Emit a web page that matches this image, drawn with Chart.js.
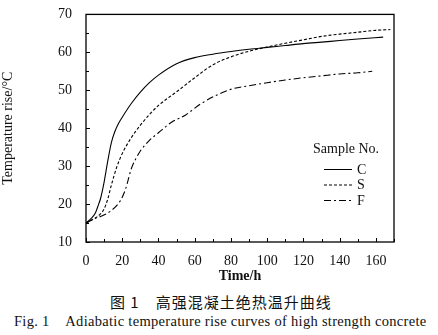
<!DOCTYPE html>
<html><head><meta charset="utf-8">
<script src="https://cdn.jsdelivr.net/npm/chart.js@4/dist/chart.umd.min.js"></script>
<style>
html,body{margin:0;padding:0;background:#fff;width:438px;height:335px;overflow:hidden}
#wrap{position:absolute;left:0;top:0;width:438px;height:285px}
.cap{position:absolute;color:#111;white-space:nowrap}
#cn{top:291px;left:110px;font-family:"Noto Sans CJK SC",sans-serif;font-size:15px;letter-spacing:1px}
#en{top:313px;left:14px;font-family:"Liberation Serif","Times New Roman",serif;font-size:14.5px;letter-spacing:0.3px}
</style></head><body>
<div id="wrap"><canvas id="c" width="438" height="285"></canvas></div>
<div class="cap" id="cn">图 1　高强混凝土绝热温升曲线</div>
<div class="cap" id="en">Fig. 1&nbsp;&nbsp;&nbsp;&nbsp;Adiabatic temperature rise curves of high strength concrete</div>
<script>
const seriesNames = ["C","S","F"];
const cTime = [0,3,5,7,8,10,12,14,16,18,20,25,30,35,40,50,60,70,80,90,100,110,120,130,140,150,164];
const cTemp = [15,16.3,17.5,20,21.4,25.8,31.3,36.2,39.2,41.3,42.9,46.5,49.5,52,54,57,58.6,59.5,60.2,60.8,61.3,61.8,62.3,62.7,63.1,63.5,64];
const sTime = [0,5,8,10,12,14,17,20,25,30,35,40,50,60,70,80,90,100,110,120,130,140,150,160,168];
const sTemp = [15,16.3,17.4,18.7,21.3,25,29.8,33.3,37.5,40.8,43.6,46,49.6,53.3,56.7,58.8,60.3,61.4,62.4,63.3,64.2,64.8,65.3,65.8,66];
const fTime = [0,5,9,14,18,20,22,25,28,30,35,40,47,55,63,72,81,90,100,110,120,130,140,150,158];
const fTemp = [15,16.2,16.9,18.3,20.2,21.8,24.2,29.3,32.4,34,36.8,38.8,41.5,43.5,46.3,48.7,50.4,51.2,52,52.7,53.3,53.8,54.3,54.6,55];
const xTicks = [0,20,40,60,80,100,120,140,160];
const yTicks = [10,20,30,40,50,60,70];

const toPts = (xs, ys) => xs.map((x,i)=>({x, y: ys[i]}));
const FONT = "Liberation Serif";

const framePlugin = {
  id:'frame',
  afterDraw(chart){
    const {ctx, chartArea:a, scales:{x,y}} = chart;
    ctx.save();
    ctx.strokeStyle='#000'; ctx.lineWidth=1.3;
    ctx.strokeRect(a.left, a.top, a.right-a.left, a.bottom-a.top);
    ctx.lineWidth=1;
    for(let v=0; v<=170; v+=10){
      const px = Math.round(x.getPixelForValue(v))+0.5;
      const L = v%20===0 ? 4 : 3;
      ctx.beginPath(); ctx.moveTo(px,a.bottom); ctx.lineTo(px,a.bottom-L); ctx.stroke();
    }
    for(let v=10; v<=70; v+=5){
      const py = Math.round(y.getPixelForValue(v))+0.5;
      const L = v%10===0 ? 4 : 3;
      ctx.beginPath(); ctx.moveTo(a.left,py); ctx.lineTo(a.left+L,py); ctx.stroke();
    }
    ctx.fillStyle='#111';
    ctx.font = '14px "'+FONT+'"';
    ctx.textBaseline='middle'; ctx.textAlign='left';
    ctx.fillText('Sample No.', 313, 149);
    chart.data.datasets.forEach((ds,i)=>{
      const yy = 169 + i*15.5;
      ctx.strokeStyle='#000'; ctx.lineWidth=1;
      ctx.setLineDash(ds.borderDash||[]);
      ctx.beginPath(); ctx.moveTo(324,yy+0.5); ctx.lineTo(352,yy+0.5); ctx.stroke();
      ctx.setLineDash([]);
      ctx.fillText(ds.label, 357, yy+1);
    });
    ctx.restore();
  }
};

new Chart(document.getElementById('c'), {
  type:'line',
  data:{datasets:[
    {label:seriesNames[0], data:toPts(cTime,cTemp), borderColor:'#000', borderWidth:1.1, pointRadius:0, fill:false, cubicInterpolationMode:'monotone'},
    {label:seriesNames[1], data:toPts(sTime,sTemp), borderColor:'#000', borderWidth:1.1, borderDash:[3,2], pointRadius:0, fill:false, cubicInterpolationMode:'monotone'},
    {label:seriesNames[2], data:toPts(fTime,fTemp), borderColor:'#000', borderWidth:1.1, borderDash:[7,3,2,3], pointRadius:0, fill:false, cubicInterpolationMode:'monotone'}
  ]},
  options:{
    responsive:false, animation:false,
    layout:{padding:{left:0,top:14,right:44,bottom:0}},
    plugins:{legend:{display:false}, tooltip:{enabled:false}},
    scales:{
      x:{type:'linear', min:0, max:170,
        afterBuildTicks(s){ s.ticks = xTicks.map(v=>({value:v})); },
        afterFit(s){ s.height = 43; },
        grid:{display:false}, border:{display:false},
        ticks:{color:'#111', font:{family:FONT,size:14}, padding:3, maxRotation:0},
        title:{display:true, text:'Time/h', color:'#111', font:{family:FONT,size:14,weight:'bold'}, padding:{top:0,bottom:0}}
      },
      y:{type:'linear', min:10, max:70,
        afterBuildTicks(s){ s.ticks = yTicks.map(v=>({value:v})); },
        afterFit(s){ s.width = 86; },
        grid:{display:false}, border:{display:false},
        ticks:{color:'#111', font:{family:FONT,size:14}, padding:6},
        title:{display:true, text:'Temperature rise/°C', color:'#111', font:{family:FONT,size:14}, padding:{top:0,bottom:4}}
      }
    }
  },
  plugins:[framePlugin]
});
</script></body></html>
